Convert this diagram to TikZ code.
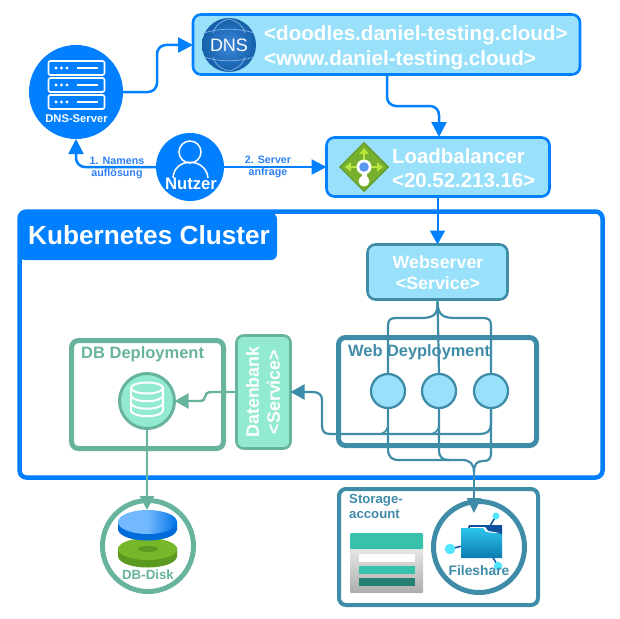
\documentclass[tikz,border=0pt]{standalone}
\usepackage{fontspec}
\setmainfont{Liberation Sans}
\usetikzlibrary{arrows.meta,calc,shapes.geometric}
\definecolor{kblue}{HTML}{007FFF}
\definecolor{lblue}{HTML}{99E1FA}
\definecolor{teal1}{HTML}{3F8CA8}
\definecolor{mint}{HTML}{92EBD0}
\definecolor{sage}{HTML}{68B39E}
\definecolor{lab}{HTML}{2F7FF5}
\definecolor{lbgreen}{HTML}{76B02E}
\definecolor{lbdark}{HTML}{5E9624}
\definecolor{lblime}{HTML}{B9E63C}
\definecolor{podblue}{HTML}{5A96F0}
\definecolor{diskg}{HTML}{76B82A}
\definecolor{diskgd}{HTML}{5B9A20}
\definecolor{stteal}{HTML}{38C1AB}
\definecolor{stdark}{HTML}{268074}
\definecolor{fdark}{HTML}{0C50A0}
\definecolor{ftop}{HTML}{2BC4EA}
\definecolor{fbot}{HTML}{0C7BB0}
\definecolor{fnode}{HTML}{50E6FF}
\definecolor{globein}{HTML}{3D86DC}
\definecolor{globeout}{HTML}{1460A8}
\definecolor{globeln}{HTML}{7FB0E6}
\tikzset{
  bluebox/.style={draw=kblue,fill=lblue,line width=2.6pt,rounded corners=8pt,outer sep=0pt,inner sep=0pt},
  tealbox/.style={draw=teal1,fill=lblue,line width=2.6pt,rounded corners=8pt,outer sep=0pt,inner sep=0pt},
  mintbox/.style={draw=sage,fill=mint,line width=2.6pt,rounded corners=7pt,outer sep=0pt,inner sep=0pt},
  frame/.style={rounded corners=7pt,outer sep=0pt,inner sep=0pt},
  round/.style={circle,outer sep=0pt,inner sep=0pt},
  conn/.style={draw=kblue,line width=2.5pt,rounded corners=9pt},
  tconn/.style={draw=teal1,line width=2.2pt},
  sconn/.style={draw=sage,line width=2.4pt},
  tip/.style={-{Triangle[length=15pt,width=15pt]}},
  wtext/.style={text=white,font=\bfseries,inner sep=0pt,align=left},
  lbl/.style={text=lab,inner sep=0pt,align=center,font=\fontsize{10.7}{12.5}\selectfont\bfseries},
  podc/.style={round,draw=teal1,fill=lblue,line width=2.3pt,minimum size=34pt},
}
\begin{document}
\begin{tikzpicture}[x=1pt,y=-1pt]
\useasboundingbox (0,0) rectangle (620,618);
% cluster
\node[frame,draw=kblue,line width=4.5pt,minimum width=583pt,minimum height=266pt] (cluster) at (311,344.5) {};
\fill[kblue,rounded corners=6pt] (19,213) -- (277,213) -- (277,260) -- (19,260) -- cycle;
\node[wtext,anchor=west,font=\fontsize{26.2}{28}\selectfont\bfseries] (ctitle) at (28,235) {Kubernetes Cluster};

% boxes
\node[bluebox,minimum width=387pt,minimum height=60pt] (dns) at (386.5,44.5) {};
\node[bluebox,minimum width=223pt,minimum height=59pt] (lb) at (438,167) {};
\node[tealbox,minimum width=140pt,minimum height=55pt] (web) at (437.5,272) {};
\node[mintbox,minimum width=54pt,minimum height=113pt] (dbsvc) at (263.5,392) {};
\node[frame,draw=teal1,line width=5pt,minimum width=198pt,minimum height=108pt] (webdep) at (437.5,391.5) {};
\node[frame,draw=sage,line width=5pt,minimum width=152pt,minimum height=108pt] (dbdep) at (147.5,394.5) {};
\node[frame,draw=teal1,line width=4pt,minimum width=199pt,minimum height=116pt] (storage) at (438.5,547) {};

% texts in boxes
\node[wtext,anchor=west,font=\fontsize{20.6}{24.5}\selectfont\bfseries] (dnst) at (264,47.5) {<doodles.daniel-testing.cloud>\\<www.daniel-testing.cloud>};
\node[wtext,anchor=west,font=\fontsize{20.4}{24}\selectfont\bfseries] (lbt) at (392,168) {Loadbalancer\\<20.52.213.16>};
\node[wtext,align=center,font=\fontsize{17.8}{21}\selectfont\bfseries] (webt) at (438,273) {Webserver\\<Service>};
\node[wtext,align=center,rotate=90,font=\fontsize{17.8}{21}\selectfont\bfseries] (dbt) at (263,392) {Datenbank\\<Service>};
\node[anchor=west,inner sep=0pt,text=teal1,font=\fontsize{16.4}{19}\selectfont\bfseries] (webl) at (348,352) {Web Deyployment};
\node[anchor=west,inner sep=0pt,text=sage,font=\fontsize{16.5}{19}\selectfont\bfseries] (dbl) at (81,354) {DB Deployment};
\node[anchor=north west,inner sep=0pt,align=left,text=teal1,font=\fontsize{13.2}{15.5}\selectfont\bfseries] (stl) at (349,494) {Storage-\\account};

% DNS globe
\node[round,minimum size=54pt,inner color=globein,outer color=globeout] (globe) at (229,45) {};
\draw[globeln,line width=.7pt] (202,45) circle[radius=0pt] (229,19) .. controls (218,22) and (214,28) .. (213,33) (229,19) .. controls (240,22) and (244,28) .. (245,33) (229,71) .. controls (218,68) and (214,62) .. (213,57) (229,71) .. controls (240,68) and (244,62) .. (245,57);
\draw[globeln,line width=.7pt] (204,33) .. controls (220,28) and (238,28) .. (254,33);
\draw[globeln,line width=.7pt] (204,57) .. controls (220,62) and (238,62) .. (254,57);
\node[text=white,inner sep=0pt,font=\fontsize{18}{20}\selectfont] (dnsl) at (229,45) {DNS};

% Loadbalancer icon
\node[diamond,draw=lbdark,line width=1pt,fill=lbgreen,minimum size=49pt,inner sep=0pt] (lbi) at (364,167) {};
\draw[lblime,line width=2pt,{Triangle[length=6pt,width=9pt]}-{Triangle[length=6pt,width=9pt]}] (345,167) -- (383,167);
\draw[lblime,line width=2pt,-{Triangle[length=6pt,width=9pt]}] (364,167) -- (364,148);
\draw[white,line width=5pt] (364,167) -- (364,181);
\fill[white] (364,181) circle (5.5);
\fill[white] (364,167) circle (7.5);
\fill[podblue] (364,167) circle (4.8);

% DNS server
\node[round,fill=kblue,minimum size=94pt] (dsrv) at (76,92) {};
\foreach \yy in {61,78,95}{
  \draw[white,line width=1.6pt,rounded corners=2pt] (48.5,\yy) rectangle (104.5,\yy+14);
  \fill[white] (56,\yy+7) circle (1.7) (61.5,\yy+7) circle (1.7) (67,\yy+7) circle (1.7);
  \draw[white,line width=1.6pt] (77,\yy+7) -- (98,\yy+7);
}
\node[wtext,font=\fontsize{11.2}{13}\selectfont\bfseries] (dsrvt) at (76.5,119) {DNS-Server};

% user
\node[round,fill=kblue,minimum size=68pt] (user) at (190,167) {};
\draw[white,line width=1.5pt] (190,152) circle (11);
\draw[white,line width=1.5pt] (173,178) .. controls (174,157) and (206,157) .. (208,178);
\node[wtext,font=\fontsize{16.7}{18}\selectfont\bfseries] (usert) at (191,184) {Nutzer};

% pods
\node[podc] (p1) at (388,391) {};
\node[podc] (p2) at (439,391) {};
\node[podc] (p3) at (491,391) {};

% DB pod
\node[round,draw=sage,fill=mint,line width=3pt,minimum size=55pt] (dbp) at (147,401) {};
\draw[white,line width=2pt] (131,388) -- (131,411) (163,388) -- (163,411);
\draw[white,line width=2pt] (147,388) ellipse[x radius=16,y radius=5.5];
\draw[white,line width=2pt] (131,396) .. controls (134,403) and (160,403) .. (163,396);
\draw[white,line width=2pt] (131,403.5) .. controls (134,410.5) and (160,410.5) .. (163,403.5);
\draw[white,line width=2pt] (131,411) .. controls (134,418) and (160,418) .. (163,411);

% Disk
\node[round,draw=sage,fill=white,line width=5pt,minimum size=91pt] (disk) at (148,546) {};
\fill[diskgd] (118,547) -- (118,557) .. controls (122,571) and (173,571) .. (177,557) -- (177,547) -- cycle;
\fill[diskg] (147.5,549) ellipse[x radius=29.5,y radius=11];
\fill[diskgd] (148,549) ellipse[x radius=10,y radius=3];
\fill[kblue!85!black] (118,522) -- (118,530) .. controls (122,544) and (173,544) .. (177,530) -- (177,522) -- cycle;
\shade[left color=kblue!55!white,right color=kblue!90!black,middle color=kblue!55!white] (147.5,522) ellipse[x radius=29.5,y radius=12];
\node[inner sep=0pt,text=sage,font=\fontsize{13.3}{15}\selectfont\bfseries] (diskt) at (148,575) {DB-Disk};

% Storage icon
\shade[top color=black!8,bottom color=black!32,rounded corners=1pt] (350,545) rectangle (423,593);
\fill[stteal,rounded corners=1pt] (350,533) rectangle (423,549);
\node[fill=white,minimum width=56pt,minimum height=8pt,inner sep=0pt] (s1) at (386.5,558) {};
\node[fill=stteal,minimum width=56pt,minimum height=8pt,inner sep=0pt] (s2) at (386.5,570) {};
\node[fill=stdark,minimum width=56pt,minimum height=8pt,inner sep=0pt] (s3) at (386.5,582) {};

% Fileshare
\node[round,draw=teal1,fill=white,line width=5pt,minimum size=91pt] (fs) at (479,547) {};
\draw[fdark,line width=1.5pt] (450,549) -- (462,546) (496,516) -- (490,526) (498,566) -- (492,556);
\fill[fdark] (468,528) -- (469,525) -- (502,525) -- (502,536) -- (468,536) -- cycle;
\fill[white] (470,527) -- (485,527) -- (488,531) -- (500,533) -- (484,534) -- (470,529) -- cycle;
\shade[top color=ftop,bottom color=fbot] (461,528) -- (483,528) -- (486,532) -- (502,534) -- (502,558) -- (461,558) -- cycle;
\fill[fnode] (450,549) circle (5.3) (496,516) circle (3.5) (498,566) circle (4.3);
\node[inner sep=0pt,text=teal1,font=\fontsize{13.8}{15}\selectfont\bfseries] (fst) at (479,571) {Fileshare};

% connectors: blue
\draw[conn,tip] (dsrv.east) -- (157,92) -- (157,45) -- (dns.west |- globe);
\draw[conn,tip] (387,75) -- (387,106) -- (439,106) -- (439,137);
\draw[conn,tip] (user.west) -- (76,167) -- (dsrv.south);
\draw[conn,tip] (user.east) -- (lb.west);
\draw[kblue,line width=2pt,-{Triangle[length=14pt,width=15pt]}] (lb.south -| web.north) -- (web.north);
% labels
\node[lbl] (l1) at (117,168) {1. Namens\\auflösung};
\node[lbl] (l2) at (268,167) {2. Server\\anfrage};
% connectors: web
\draw[tconn] (web.south) -- (p2.north);
\draw[tconn] ($(web.south)+(0,3)$) .. controls (438,316) and (432,318) .. (420,318) -- (396,318) .. controls (390,318) and (388,320) .. (388,326) -- (p1.north);
\draw[tconn] ($(web.south)+(0,3)$) .. controls (438,316) and (444,318) .. (456,318) -- (483,318) .. controls (489,318) and (491,320) .. (491,326) -- (p3.north);
% pods to storage
\draw[tconn] (p1.south) -- (388,448) .. controls (388,458) and (392,460) .. (400,460) -- (462,460) .. controls (470,460) and (474,464) .. (474,472);
\draw[tconn] (p2.south) -- (439,450) .. controls (439,458) and (443,460) .. (450,460);
\draw[tconn] (p3.south) -- (491,452) .. controls (491,459) and (489,461) .. (483,461) .. controls (477,461) and (474,464) .. (474,472);
\draw[teal1,line width=2.2pt,-{Triangle[length=15pt,width=14pt]}] (474,470) -- (474,513);
% pods to db service
\draw[tconn] (p3.south) -- (491,424) .. controls (491,431) and (487,434) .. (480,434) -- (330,434) .. controls (324,434) and (322,431) .. (322,425) -- (322,400) .. controls (322,394) and (318,392) .. (312,392) -- (304,392);
\draw[teal1,line width=2.2pt,-{Triangle[length=14pt,width=15pt]}] (306,392) -- (dbsvc.east);
\draw[teal1,line width=1.6pt] (388,426) .. controls (387,431) and (384,433) .. (381,434);
\draw[teal1,line width=1.6pt] (439,426) .. controls (438,431) and (435,433) .. (432,434);
% db
\draw[sconn] (dbsvc.west |- 0,392) -- (212,392) .. controls (207,392) and (205,394) .. (205,397) .. controls (205,400) and (203,401) .. (199,401) -- (190,401);
\draw[sage,line width=2.4pt,-{Triangle[length=14pt,width=15pt]}] (192,401) -- (dbp.east);
\draw[sage,line width=2.4pt,-{Triangle[length=14pt,width=14pt]}] (dbp.south) -- (147,510);
\end{tikzpicture}
\end{document}
